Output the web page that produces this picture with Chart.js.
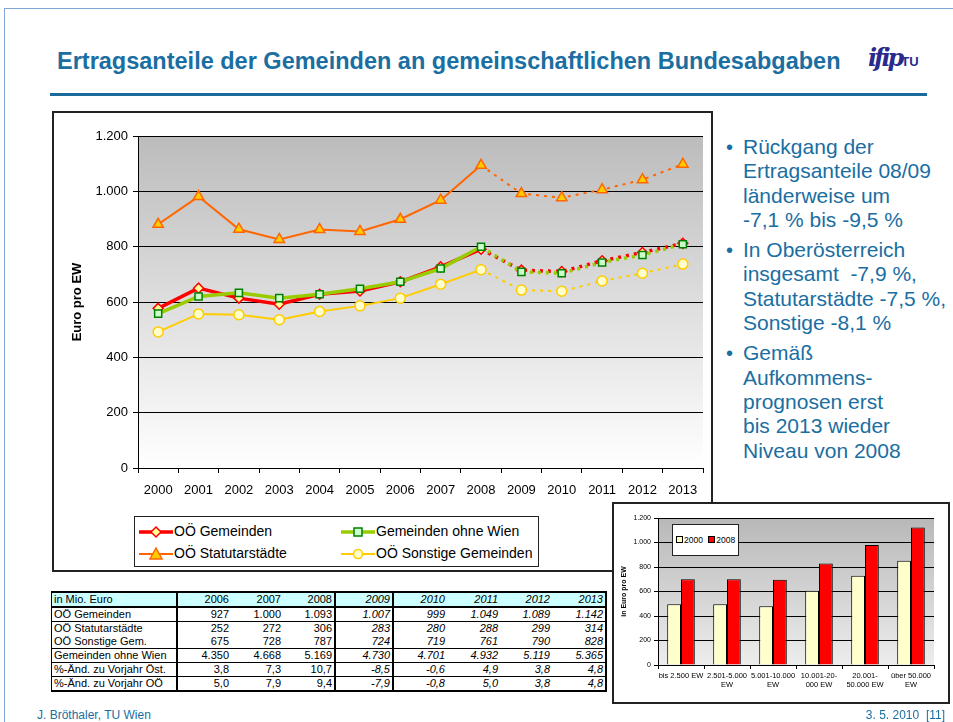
<!DOCTYPE html>
<html>
<head>
<meta charset="utf-8">
<script src="https://cdn.jsdelivr.net/npm/chart.js@4.4.1/dist/chart.umd.min.js"></script>
<style>
body { margin:0; background:#fff; font-family:"Liberation Sans", Arial, sans-serif; }
#slide { position:relative; width:953px; height:722px; overflow:hidden; }
.frameTop { position:absolute; left:4px; top:8px; width:960px; height:1px; background:#7fa7d8; }
.frameLeft { position:absolute; left:4px; top:8px; width:1px; height:720px; background:#7fa7d8; }
#title { position:absolute; left:57px; top:48px; font-size:23.5px; font-weight:bold; color:#1a6ea1; white-space:nowrap; }
#rule { position:absolute; left:50px; top:93px; width:877px; height:3px; background:#1b6a9c; }
#logo { position:absolute; left:868px; top:43px; font-weight:bold; font-style:italic; color:#2a2a8c; font-size:24px; font-family:"DejaVu Serif", serif; letter-spacing:-3px; }
#logo span { font-size:13px; font-style:normal; font-family:"Liberation Sans", Arial; letter-spacing:0; }
#mainBox { position:absolute; left:52px; top:111px; width:657px; height:457px; border:2px solid #222; background:#fff; }
#mainChart { position:absolute; left:0; top:0; }
#legend { position:absolute; left:80px; top:403px; width:403px; height:49px; border:1px solid #222; background:#fff; font-size:14px; }
.lg { position:absolute; height:18px; line-height:18px; white-space:nowrap; }
.lg svg { vertical-align:middle; margin-right:1px; }
#bullets { position:absolute; left:726px; top:135px; width:227px; color:#1a6ea1; font-size:21px; line-height:24.3px; white-space:nowrap; }
#bullets div { position:relative; padding-left:17px; margin-bottom:6px; }
#bullets div:before { content:"\2022"; position:absolute; left:0; top:0; font-size:20px; }
#table { position:absolute; left:51px; top:591px; border-collapse:collapse; font-size:11px; color:#000; }
#table td { padding:0 2px; height:13px; line-height:13px; text-align:right; white-space:nowrap; }
#table td:first-child { text-align:left; width:120px; }
#smallBox { position:absolute; left:612px; top:502px; width:334px; height:198px; border:2px solid #222; background:#fff; }
#smallLegend { position:absolute; left:58px; top:20px; width:65px; height:30px; border:1px solid #222; background:#fff; font-size:8.5px; line-height:30px; white-space:nowrap; }
#smallLegend i { display:inline-block; width:5px; height:5px; border:1px solid #000; margin:0 1px 0 3px; }
.foot { position:absolute; top:708px; font-size:12px; color:#1a6ea1; font-family:"Liberation Sans Narrow", "Liberation Sans", Arial; }
</style>
</head>
<body>
<div id="slide">
  <div class="frameTop"></div><div class="frameLeft"></div>
  <div id="title">Ertragsanteile der Gemeinden an gemeinschaftlichen Bundesabgaben</div>
  <div id="logo">ifip<span>TU</span></div>
  <div id="rule"></div>

  <div id="mainBox">
    <canvas id="mainChart" width="657" height="457"></canvas>
    <div id="legend"></div>
  </div>

  <div id="bullets">
    <div>Rückgang der<br>Ertragsanteile 08/09<br>länderweise um<br>-7,1 % bis -9,5 %</div>
    <div>In Oberösterreich<br>insgesamt&nbsp; -7,9 %,<br>Statutarstädte -7,5 %,<br>Sonstige -8,1 %</div>
    <div>Gemäß<br>Aufkommens-<br>prognosen erst<br>bis 2013 wieder<br>Niveau von 2008</div>
  </div>

  <table id="table"></table>

  <div id="smallBox">
    <canvas id="smallChart" width="334" height="198"></canvas>
    <div id="smallLegend"><i style="background:#ffffcc"></i>2000 <i style="background:#ff0000"></i>2008</div>
  </div>

  <div class="foot" style="left:37px">J. Bröthaler, TU Wien</div>
  <div class="foot" style="right:8px">3. 5. 2010&nbsp; [11]</div>
</div>

<script>
// Euro pro EW, 2000-2013 (ab 2009 Prognose)
var years = ['2000','2001','2002','2003','2004','2005','2006','2007','2008','2009','2010','2011','2012','2013'];
var ooeGemeinden = [577, 650, 614, 592, 628, 640, 673, 727, 791, 715, 710, 749, 779, 812];
var ohneWien     = [558, 620, 633, 614, 628, 648, 673, 721, 800, 709, 704, 743, 770, 809];
var statutar     = [881, 981, 863, 826, 862, 855, 899, 968, 1094, 992, 977, 1006, 1042, 1098];
var sonstige     = [492, 557, 554, 536, 566, 586, 614, 664, 717, 643, 639, 676, 704, 737];
var lastActual = 8; // index of 2008

// kleine Grafik: Gemeindegrößenklassen
var sizeClasses = [['bis 2.500 EW'], ['2.501-5.000', 'EW'], ['5.001-10.000', 'EW'], ['10.001-20-', '000 EW'], ['20.001-', '50.000 EW'], ['über 50.000', 'EW']];
var ew2000 = [496, 496, 480, 607, 729, 852];
var ew2008 = [701, 701, 696, 829, 980, 1123];

// Tabelle in Mio. Euro
var tabYears      = ['2006','2007','2008','2009','2010','2011','2012','2013'];
var tabGemeinden  = ['927','1.000','1.093','1.007','999','1.049','1.089','1.142'];
var tabStatutar   = ['252','272','306','283','280','288','299','314'];
var tabSonstige   = ['675','728','787','724','719','761','790','828'];
var tabOhneWien   = ['4.350','4.668','5.169','4.730','4.701','4.932','5.119','5.365'];
var tabAendOest   = ['3,8','7,3','10,7','-8,5','-0,6','4,9','3,8','4,8'];
var tabAendOOe    = ['5,0','7,9','9,4','-7,9','-0,8','5,0','3,8','4,8'];

function fmt(v) { return String(v).replace(/\B(?=(\d{3})+(?!\d))/g, '.'); }

var plotBg = {
  id: 'plotBg',
  beforeDraw: function(chart, args, opts) {
    var a = chart.chartArea, ctx = chart.ctx;
    var g = ctx.createLinearGradient(0, a.top, 0, a.bottom);
    g.addColorStop(0, opts.top);
    g.addColorStop(1, opts.bottom);
    ctx.save();
    ctx.fillStyle = g;
    ctx.fillRect(a.left, a.top, a.width, a.height);
    ctx.restore();
  }
};

function dotted(ctx) { return ctx.p0DataIndex >= lastActual ? [3, 5] : undefined; }

function lineSet(label, data, color, width, style, fill, border, radius, order) {
  return {
    label: label, data: data, borderColor: color, borderWidth: width,
    pointStyle: style, pointBackgroundColor: fill, pointBorderColor: border,
    pointBorderWidth: 1.5, pointRadius: radius, tension: 0, order: order,
    segment: { borderDash: dotted }
  };
}

Chart.defaults.font.family = '"Liberation Sans", Arial, sans-serif';
Chart.defaults.color = '#000';

new Chart(document.getElementById('mainChart'), {
  type: 'line',
  data: {
    labels: years,
    datasets: [
      lineSet('OÖ Gemeinden', ooeGemeinden, '#ff0000', 3.5, 'rectRot', '#ffff99', '#ff0000', 5, 2),
      lineSet('Gemeinden ohne Wien', ohneWien, '#99cc00', 3.5, 'rect', '#ccffcc', '#008000', 5, 1),
      lineSet('OÖ Statutarstädte', statutar, '#ff6600', 2, 'triangle', '#ffcc00', '#ff6600', 6, 3),
      lineSet('OÖ Sonstige Gemeinden', sonstige, '#ffcc00', 2, 'circle', '#ffffcc', '#ffcc00', 5, 4)
    ]
  },
  options: {
    responsive: false, animation: false, devicePixelRatio: 1,
    layout: { padding: { left: 16, top: 23, right: 8, bottom: 62 } },
    plugins: { legend: { display: false }, tooltip: { enabled: false },
      plotBg: { top: '#bcbcbc', bottom: '#ffffff' } },
    scales: {
      x: {
        offset: true,
        grid: { offset: true, drawOnChartArea: false, color: '#000', tickLength: 5 },
        border: { color: '#000', width: 1 },
        ticks: { font: { size: 13 }, padding: 10, maxRotation: 0, autoSkip: false },
        afterFit: function(s) { s.height = 40; }
      },
      y: {
        min: 0, max: 1200,
        grid: { color: '#000', tickLength: 5 },
        border: { color: '#000', width: 1 },
        ticks: { stepSize: 200, font: { size: 13 }, padding: 5, callback: function(v) { return fmt(v); } },
        title: { display: true, text: 'Euro pro EW', font: { size: 13, weight: 'bold' }, padding: 0 },
        afterFit: function(s) { s.width = 68; }
      }
    }
  },
  plugins: [plotBg]
});

// Legende als HTML mit Linien- und Markersymbol
var legendItems = [
  { text: 'OÖ Gemeinden', color: '#ff0000', w: 3.5, mark: '<polygon points="17,4 22,9 17,14 12,9" fill="#ffff99" stroke="#ff0000" stroke-width="1.5"/>', x: 4, y: 5 },
  { text: 'Gemeinden ohne Wien', color: '#99cc00', w: 3.5, mark: '<rect x="13" y="5" width="8" height="8" fill="#ccffcc" stroke="#008000" stroke-width="1.5"/>', x: 206, y: 5 },
  { text: 'OÖ Statutarstädte', color: '#ff6600', w: 2, mark: '<polygon points="17,3 23,14 11,14" fill="#ffcc00" stroke="#ff6600" stroke-width="1.5"/>', x: 4, y: 27 },
  { text: 'OÖ Sonstige Gemeinden', color: '#ffcc00', w: 2, mark: '<circle cx="17" cy="9" r="4.5" fill="#ffffcc" stroke="#ffcc00" stroke-width="1.5"/>', x: 206, y: 27 }
];
var lg = document.getElementById('legend');
legendItems.forEach(function(it) {
  var d = document.createElement('div');
  d.className = 'lg';
  d.style.left = it.x + 'px';
  d.style.top = it.y + 'px';
  d.innerHTML = '<svg width="34" height="18"><line x1="0" y1="9" x2="34" y2="9" stroke="' + it.color + '" stroke-width="' + it.w + '"/>' + it.mark + '</svg>' + it.text;
  lg.appendChild(d);
});

new Chart(document.getElementById('smallChart'), {
  type: 'bar',
  data: {
    labels: sizeClasses,
    datasets: [
      { label: '2000', data: ew2000, backgroundColor: '#ffffcc', borderColor: '#000', borderWidth: 1 },
      { label: '2008', data: ew2008, backgroundColor: '#ff0000', borderColor: '#000', borderWidth: 1 }
    ]
  },
  options: {
    responsive: false, animation: false, devicePixelRatio: 1,
    layout: { padding: { left: 6, top: 14, right: 14, bottom: 7 } },
    datasets: { bar: { categoryPercentage: 0.6, barPercentage: 1 } },
    plugins: { legend: { display: false }, tooltip: { enabled: false },
      plotBg: { top: '#b8b8b8', bottom: '#ededed' } },
    scales: {
      x: {
        grid: { offset: true, drawOnChartArea: false, color: '#000', tickLength: 4 },
        border: { color: '#000' },
        ticks: { font: { size: 7.5 }, padding: 2, maxRotation: 0, autoSkip: false },
        afterFit: function(s) { s.height = 30; }
      },
      y: {
        min: 0, max: 1200,
        grid: { color: '#000', tickLength: 4 },
        border: { color: '#000' },
        ticks: { stepSize: 200, font: { size: 7 }, padding: 3, callback: function(v) { return fmt(v); } },
        title: { display: true, text: 'in Euro pro EW', font: { size: 7, weight: 'bold' }, padding: 0 },
        afterFit: function(s) { s.width = 38; }
      }
    }
  },
  plugins: [plotBg]
});

// Tabelle
var rows = [
  { label: 'in Mio. Euro', vals: tabYears, head: true },
  { label: 'OÖ Gemeinden', vals: tabGemeinden, line: true },
  { label: 'OÖ Statutarstädte', vals: tabStatutar },
  { label: 'OÖ Sonstige Gem.', vals: tabSonstige, line: true },
  { label: 'Gemeinden ohne Wien', vals: tabOhneWien, line: true },
  { label: '%-Änd. zu Vorjahr Öst.', vals: tabAendOest, line: true },
  { label: '%-Änd. zu Vorjahr OÖ', vals: tabAendOOe, line: true }
];
var colW = [53, 52, 51, 56, 53, 53, 52, 53];
var tbl = document.getElementById('table');
rows.forEach(function(r, ri) {
  var tr = document.createElement('tr');
  var cells = [r.label].concat(r.vals);
  cells.forEach(function(c, ci) {
    var td = document.createElement('td');
    td.textContent = c;
    var s = td.style;
    if (ci > 0) s.width = (colW[ci - 1] - 4) + 'px';
    if (ci >= 4) s.fontStyle = 'italic';
    if (r.head) { s.background = '#ccffff'; s.borderTop = '2px solid #000'; s.borderBottom = '2px solid #000'; }
    if (r.line) s.borderBottom = (ri === rows.length - 1 ? '2px' : '1px') + ' solid #000';
    if (ci === 0) s.borderLeft = '1px solid #000';
    if (ci === 0 || ci === 3 || ci === 4 || ci === 8) s.borderRight = '2px solid #000';
    tr.appendChild(td);
  });
  tbl.appendChild(tr);
});
</script>
</body>
</html>
